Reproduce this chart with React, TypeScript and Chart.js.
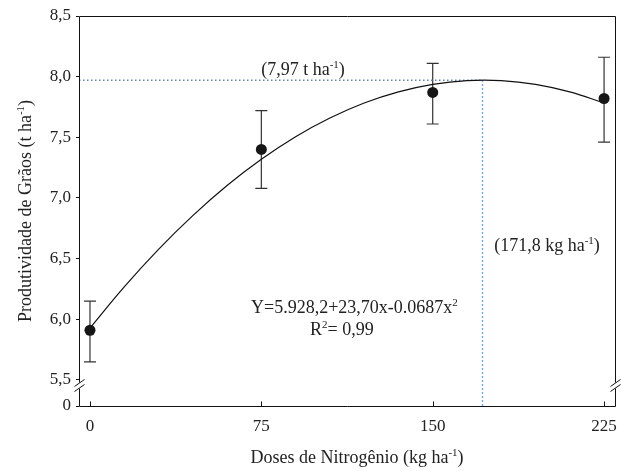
import React, { useEffect, useRef } from 'react';
import { Chart, registerables } from 'chart.js';

Chart.register(...registerables);

// ---- data ----
const doses = [0, 75, 150, 225];
const yieldMean = [5.91, 7.4, 7.87, 7.82];
const yieldUpper = [6.15, 7.72, 8.11, 8.16];
const yieldLower = [5.65, 7.08, 7.61, 7.46];

const fitX = [0, 15, 30, 45, 60, 75, 90, 105, 120, 135, 150, 165, 180, 195, 210, 225];
const fitY = [5.928, 6.268, 6.577, 6.855, 7.103, 7.319, 7.505, 7.659, 7.783, 7.875, 7.937, 7.968, 7.968, 7.937, 7.875, 7.783];

const optDose = 171.8;
const optYield = 7.97;

const xTickValues = [0, 75, 150, 225];
const yTickValues = [5.5, 6.0, 6.5, 7.0, 7.5, 8.0, 8.5];

// axis extents (the lowest y value is the broken-axis position that stands for 0)
const X_MIN = -4.8;
const X_MAX = 230;
const Y_MAX = 8.5;
const Y_ZERO = 5.2856;
const Y_BREAK_VALUE = 5.5;

const FAMILY = '"Liberation Serif", "Times New Roman", serif';
const TEXT = '#222';

type Seg = { t: string; sup?: boolean };

function drawRich(ctx: CanvasRenderingContext2D, segs: Seg[], x: number, y: number, size: number, align: 'left' | 'center') {
  const widths = segs.map((s) => {
    ctx.font = `${s.sup ? Math.round(size * 0.62) : size}px ${FAMILY}`;
    return ctx.measureText(s.t).width;
  });
  const total = widths.reduce((a, b) => a + b, 0);
  let cx = align === 'center' ? x - total / 2 : x;
  ctx.textAlign = 'left';
  ctx.textBaseline = 'alphabetic';
  ctx.fillStyle = TEXT;
  segs.forEach((s, i) => {
    ctx.font = `${s.sup ? Math.round(size * 0.62) : size}px ${FAMILY}`;
    ctx.fillText(s.t, cx, s.sup ? y - size * 0.4 : y);
    cx += widths[i];
  });
}

const decorPlugin = {
  id: 'decor',
  beforeDatasetsDraw(chart: any) {
    const { ctx, scales } = chart;
    const xs = scales.x;
    const ys = scales.y;
    ctx.save();
    ctx.strokeStyle = '#333';
    ctx.lineWidth = 1.2;
    doses.forEach((d, i) => {
      const px = xs.getPixelForValue(d);
      const top = ys.getPixelForValue(yieldUpper[i]);
      const bot = ys.getPixelForValue(yieldLower[i]);
      ctx.beginPath();
      ctx.moveTo(px, top);
      ctx.lineTo(px, bot);
      ctx.moveTo(px - 6, top);
      ctx.lineTo(px + 6, top);
      ctx.moveTo(px - 6, bot);
      ctx.lineTo(px + 6, bot);
      ctx.stroke();
    });
    ctx.restore();
  },
  afterDraw(chart: any) {
    const { ctx, chartArea, scales } = chart;
    const { left, right, top, bottom } = chartArea;
    const xs = scales.x;
    const breakY = scales.y.getPixelForValue(Y_BREAK_VALUE) + 5.5;
    ctx.save();
    ctx.strokeStyle = '#111';
    ctx.lineWidth = 1;
    const L = Math.round(left) + 0.5;
    const R = Math.round(right) - 0.5;
    const T = Math.round(top) + 0.5;
    const B = Math.round(bottom) + 0.5;
    ctx.beginPath();
    ctx.moveTo(L, T);
    ctx.lineTo(R, T);
    ctx.moveTo(L, T);
    ctx.lineTo(L, breakY - 3);
    ctx.moveTo(L, breakY + 3);
    ctx.lineTo(L, B);
    ctx.moveTo(R, T);
    ctx.lineTo(R, breakY - 3);
    ctx.moveTo(R, breakY + 3);
    ctx.lineTo(R, B);
    ctx.moveTo(L, B);
    ctx.lineTo(R, B);
    ctx.stroke();
    ctx.beginPath();
    [L, R].forEach((bx) => {
      [-2.5, 2.5].forEach((o) => {
        ctx.moveTo(bx - 5, breakY + o + 3.5);
        ctx.lineTo(bx + 5, breakY + o - 3.5);
      });
    });
    ctx.stroke();
    ctx.beginPath();
    xTickValues.forEach((v) => {
      const px = Math.round(xs.getPixelForValue(v)) + 0.5;
      ctx.moveTo(px, B);
      ctx.lineTo(px, B - 5);
    });
    ctx.stroke();
    ctx.restore();

    ctx.save();
    drawRich(ctx, [{ t: '(7,97 t ha' }, { t: '-1', sup: true }, { t: ')' }], 303, 75, 18, 'center');
    drawRich(ctx, [{ t: '(171,8 kg ha' }, { t: '-1', sup: true }, { t: ')' }], 547, 251, 18, 'center');
    drawRich(ctx, [{ t: 'Y=5.928,2+23,70x-0.0687x' }, { t: '2', sup: true }], 251, 313, 18, 'left');
    drawRich(ctx, [{ t: 'R' }, { t: '2', sup: true }, { t: '= 0,99' }], 310, 335, 18, 'left');
    drawRich(ctx, [{ t: 'Doses de Nitrogênio (kg ha' }, { t: '-1', sup: true }, { t: ')' }], 357, 463, 18, 'center');
    ctx.translate(31, 211);
    ctx.rotate(-Math.PI / 2);
    drawRich(ctx, [{ t: 'Produtividade de Grãos (t ha' }, { t: '-1', sup: true }, { t: ')' }], 0, 0, 18, 'center');
    ctx.restore();
  },
};

export default function App() {
  const canvasRef = useRef<HTMLCanvasElement | null>(null);

  useEffect(() => {
    const canvas = canvasRef.current;
    if (!canvas) return;
    const chart = new Chart(canvas, {
      type: 'line',
      data: {
        datasets: [
          {
            label: 'means',
            data: doses.map((d, i) => ({ x: d, y: yieldMean[i] })),
            showLine: false,
            pointRadius: 5.5,
            pointBackgroundColor: '#161616',
            pointBorderColor: '#161616',
            pointBorderWidth: 0,
            order: 0,
          },
          {
            label: 'fit',
            data: fitX.map((x, i) => ({ x, y: fitY[i] })),
            borderColor: '#111',
            borderWidth: 1.2,
            pointRadius: 0,
            tension: 0.4,
            fill: false,
            order: 1,
          },
          {
            label: 'optH',
            data: [
              { x: X_MIN, y: optYield },
              { x: optDose, y: optYield },
            ],
            borderColor: '#5585d4',
            borderWidth: 1.4,
            borderDash: [1.5, 2.5],
            pointRadius: 0,
            order: 2,
          },
          {
            label: 'optV',
            data: [
              { x: optDose, y: optYield },
              { x: optDose, y: Y_ZERO },
            ],
            borderColor: '#5585d4',
            borderWidth: 1.4,
            borderDash: [1.5, 2.5],
            pointRadius: 0,
            order: 2,
          },
        ],
      },
      options: {
        animation: false,
        responsive: false,
        maintainAspectRatio: false,
        events: [],
        layout: { padding: { top: 16, right: 1, left: 0, bottom: 0 } },
        plugins: {
          legend: { display: false },
          tooltip: { enabled: false },
          title: { display: false },
        },
        scales: {
          x: {
            type: 'linear',
            min: X_MIN,
            max: X_MAX,
            afterBuildTicks: (s: any) => {
              s.ticks = xTickValues.map((v) => ({ value: v }));
            },
            afterFit: (s: any) => {
              s.height = 65;
              s.paddingLeft = 0;
              s.paddingRight = 0;
            },
            grid: { display: false, drawTicks: false },
            border: { display: false },
            ticks: {
              padding: 10,
              maxRotation: 0,
              autoSkip: false,
              color: TEXT,
              font: { family: FAMILY, size: 17 },
              callback: (v: any) => String(v),
            },
          },
          y: {
            type: 'linear',
            min: Y_ZERO,
            max: Y_MAX,
            afterBuildTicks: (s: any) => {
              s.ticks = [Y_ZERO, ...yTickValues].map((v) => ({ value: v }));
            },
            afterFit: (s: any) => {
              s.width = 79;
              s.paddingTop = 0;
              s.paddingBottom = 0;
            },
            grid: { display: true, drawOnChartArea: false, drawTicks: true, tickLength: 3, color: '#111' },
            border: { display: false },
            ticks: {
              padding: 5,
              autoSkip: false,
              color: TEXT,
              font: { family: FAMILY, size: 17 },
              callback: (v: any) => (Math.abs(v - Y_ZERO) < 1e-6 ? '0' : Number(v).toFixed(1).replace('.', ',')),
            },
          },
        },
      },
      plugins: [decorPlugin],
    } as any);
    return () => chart.destroy();
  }, []);

  return (
    <div style={{ position: 'fixed', left: 0, top: 0, width: 621, height: 471, background: '#fff' }}>
      <canvas ref={canvasRef} width={621} height={471} style={{ display: 'block', width: 621, height: 471 }} />
    </div>
  );
}
